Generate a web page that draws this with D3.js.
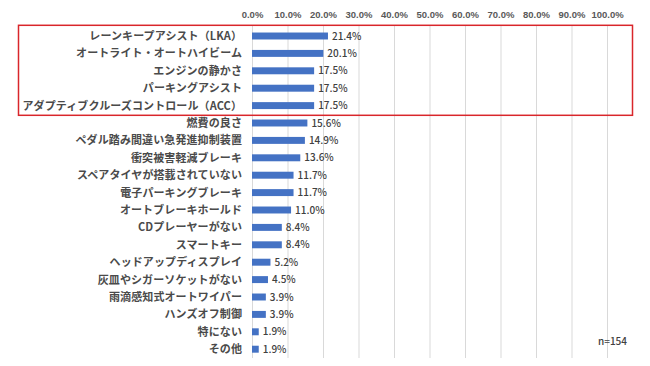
<!DOCTYPE html>
<html>
<head>
<meta charset="utf-8">
<script src="https://cdn.jsdelivr.net/npm/d3@7"></script>
<style>
  body { margin: 0; background: #fff; }
  svg { display: block; font-family: "Noto Sans CJK JP", "Noto Sans", sans-serif; }
</style>
</head>
<body>
<div id="chart"></div>
<script>
const categories = [
  'レーンキープアシスト（LKA）',
  'オートライト・オートハイビーム',
  'エンジンの静かさ',
  'パーキングアシスト',
  'アダプティブクルーズコントロール（ACC）',
  '燃費の良さ',
  'ペダル踏み間違い急発進抑制装置',
  '衝突被害軽減ブレーキ',
  'スペアタイヤが搭載されていない',
  '電子パーキングブレーキ',
  'オートブレーキホールド',
  'CDプレーヤーがない',
  'スマートキー',
  'ヘッドアップディスプレイ',
  '灰皿やシガーソケットがない',
  '雨滴感知式オートワイパー',
  'ハンズオフ制御',
  '特にない',
  'その他'
];
const values = [21.4, 20.1, 17.5, 17.5, 17.5, 15.6, 14.9, 13.6, 11.7, 11.7, 11.0, 8.4, 8.4, 5.2, 4.5, 3.9, 3.9, 1.9, 1.9];
const tickValues = [0, 10, 20, 30, 40, 50, 60, 70, 80, 90, 100];
const highlightCount = 5;
const sampleNote = 'n=154';

const width = 650;
const height = 366;

const svg = d3.select('#chart')
  .append('svg')
  .attr('width', width)
  .attr('height', height);

const x = d3.scaleLinear()
  .domain([0, 100])
  .range([252, 607]);

const y = d3.scaleBand()
  .domain(categories)
  .range([27.3, 357.9])
  .paddingInner(0.6)
  .paddingOuter(0.3);

// gridlines
svg.append('g')
  .selectAll('line')
  .data(tickValues)
  .join('line')
  .attr('x1', (d) => x(d) + 0.5)
  .attr('x2', (d) => x(d) + 0.5)
  .attr('y1', 25)
  .attr('y2', 358)
  .attr('stroke', '#d9d9d9')
  .attr('stroke-width', 1);

// top axis labels
const axis = svg.append('g')
  .attr('transform', 'translate(0,18)')
  .call(d3.axisTop(x).tickValues(tickValues).tickSize(0).tickPadding(0).tickFormat((d) => d.toFixed(1) + '%'));
axis.select('.domain').remove();
axis.selectAll('text')
  .attr('fill', '#595959')
  .attr('font-size', 9.5)
  .attr('font-weight', 600)
  .attr('dy', 0);

// bars
svg.append('g')
  .selectAll('rect')
  .data(values)
  .join('rect')
  .attr('x', x(0))
  .attr('y', (d, i) => y(categories[i]))
  .attr('width', (d) => x(d) - x(0))
  .attr('height', y.bandwidth())
  .attr('fill', '#4472c4');

// value labels
svg.append('g')
  .selectAll('text')
  .data(values)
  .join('text')
  .attr('x', (d) => x(d) + 4)
  .attr('y', (d, i) => y(categories[i]) + y.bandwidth() / 2)
  .attr('dy', '0.36em')
  .attr('font-size', 10)
  .attr('font-weight', 500)
  .attr('fill', '#404040')
  .text((d) => d.toFixed(1) + '%');

// category labels
svg.append('g')
  .selectAll('text')
  .data(categories)
  .join('text')
  .attr('x', 242)
  .attr('y', (d) => y(d) + y.bandwidth() / 2)
  .attr('dy', '0.36em')
  .attr('text-anchor', 'end')
  .attr('font-size', 11)
  .attr('font-weight', 700)
  .attr('letter-spacing', 0.1)
  .attr('fill', '#4a4a4a')
  .text((d) => d);

// highlight box around the top items
const boxTop = y(categories[0]) - (y.step() - y.bandwidth()) / 2 - 2;
const boxBottom = y(categories[highlightCount - 1]) + y.bandwidth() + (y.step() - y.bandwidth()) / 2 + 1;
svg.append('rect')
  .attr('x', 18.5)
  .attr('y', boxTop)
  .attr('width', 614)
  .attr('height', boxBottom - boxTop)
  .attr('fill', 'none')
  .attr('stroke', '#d9262b')
  .attr('stroke-width', 1.5);

svg.append('text')
  .attr('x', 627)
  .attr('y', 341)
  .attr('dy', '0.36em')
  .attr('text-anchor', 'end')
  .attr('font-size', 10)
  .attr('font-weight', 500)
  .attr('fill', '#404040')
  .text(sampleNote);
</script>
</body>
</html>
